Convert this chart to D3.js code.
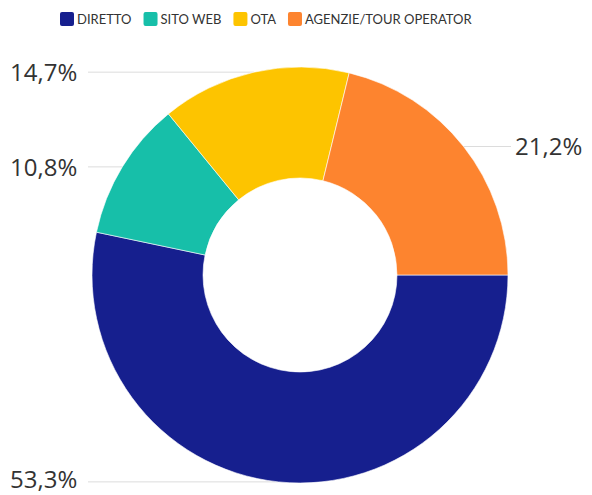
<!DOCTYPE html>
<html>
<head>
<meta charset="utf-8">
<script src="https://cdn.jsdelivr.net/npm/d3@7"></script>
<style>
  html, body { margin: 0; padding: 0; background: #fff; }
  svg { display: block; }
</style>
</head>
<body>
<div id="chart"></div>
<script>
(function() {
  "use strict";

  var categories = ['DIRETTO', 'SITO WEB', 'OTA', 'AGENZIE/TOUR OPERATOR'];
  var values = [53.3, 10.8, 14.7, 21.2];
  var labels = ['53,3%', '10,8%', '14,7%', '21,2%'];
  var colors = ['#161f8e', '#17bfa9', '#fdc400', '#fd842f'];

  var width = 592, height = 495;
  var cx = 300, cy = 275;
  var outerR = 208, innerR = 97;

  var svg = d3.select('#chart').append('svg')
    .attr('width', width)
    .attr('height', height);

  var pie = d3.pie()
    .sort(null)
    .value(function(d) { return d; })
    .startAngle(Math.PI / 2)
    .endAngle(Math.PI / 2 + 2 * Math.PI);

  var arc = d3.arc().innerRadius(innerR).outerRadius(outerR);
  var arcs = pie(values);

  // leader lines first, slices on top
  var lines = svg.append('g').attr('class', 'leaders');
  var g = svg.append('g').attr('transform', 'translate(' + cx + ',' + cy + ')');

  g.selectAll('path')
    .data(arcs)
    .enter()
    .append('path')
    .attr('d', arc)
    .attr('fill', function(d, i) { return colors[i]; })
    .attr('stroke', '#fff')
    .attr('stroke-width', 0.6);

  arcs.forEach(function(d, i) {
    var mid = (d.startAngle + d.endAngle) / 2;
    var px = cx + outerR * Math.sin(mid);
    var py = cy - outerR * Math.cos(mid);
    var right = Math.sin(mid) > 0;
    var tx = right ? 515 : 10;
    var lineStart = right ? tx - 4 : tx + 78;

    lines.append('line')
      .attr('x1', lineStart)
      .attr('x2', px)
      .attr('y1', py)
      .attr('y2', py)
      .attr('stroke', '#dcdcdc')
      .attr('stroke-width', 1);

    svg.append('text')
      .attr('x', tx)
      .attr('y', Math.min(py, 479))
      .attr('dy', '0.36em')
      .attr('font-family', 'Open Sans, sans-serif')
      .attr('font-size', 24)
      .attr('fill', '#333')
      .text(labels[i]);
  });

  // legend
  var legend = svg.append('g').attr('class', 'legend').attr('transform', 'translate(0,19)');
  var lx = 60;
  categories.forEach(function(name, i) {
    var item = legend.append('g').attr('transform', 'translate(' + lx + ',0)');
    item.append('rect')
      .attr('x', 0).attr('y', -7)
      .attr('width', 14).attr('height', 14)
      .attr('rx', 2)
      .attr('fill', colors[i]);
    var t = item.append('text')
      .attr('x', 17)
      .attr('dy', '0.35em')
      .attr('font-family', 'Lato, sans-serif')
      .attr('font-size', 13)
      .attr('fill', '#333')
      .text(name);
    lx += 17 + t.node().getComputedTextLength() + 12;
  });
})();
</script>
</body>
</html>
